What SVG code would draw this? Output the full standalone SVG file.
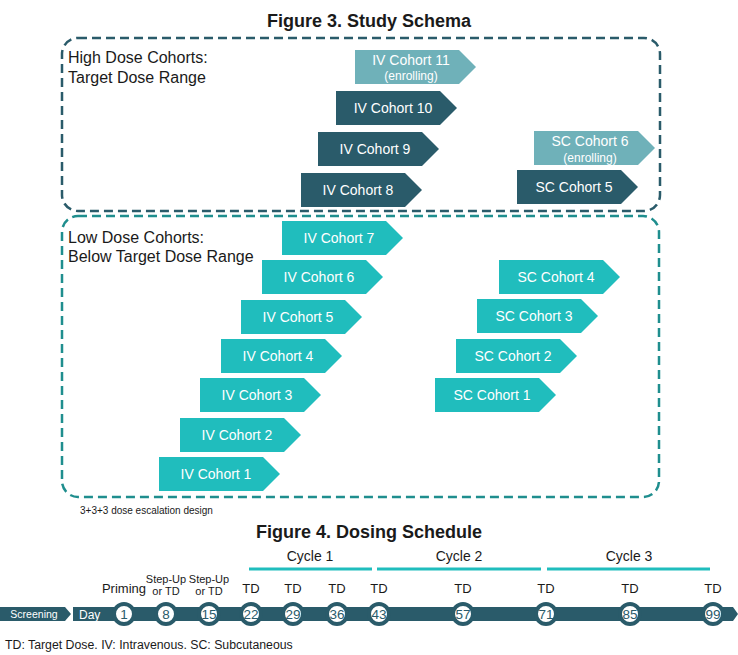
<svg xmlns="http://www.w3.org/2000/svg" width="738" height="655" viewBox="0 0 738 655">
<defs>
<style>
text{font-family:"Liberation Sans",Arial,sans-serif;}
.title{font-size:18px;font-weight:bold;fill:#1a1a1a;text-anchor:middle;}
.hdr{font-size:16px;fill:#1a1a1a;}
.lbl{font-size:14px;fill:#ffffff;text-anchor:middle;}
.sub{font-size:12px;fill:#ffffff;text-anchor:middle;}
.dark{fill:#2a5b6a;}
.light{fill:#6fb1b9;}
.teal{fill:#20bdbd;}
.cyc{font-size:14px;fill:#1a1a1a;text-anchor:middle;}
.cycline{stroke:#20bdbd;stroke-width:3;fill:none;}
.top{font-size:13px;fill:#1a1a1a;text-anchor:middle;}
.small{font-size:11px;fill:#1a1a1a;text-anchor:middle;}
.dot{fill:#ffffff;stroke:#2a5b6a;stroke-width:4;}
.num{font-size:13.5px;fill:#2a5b6a;text-anchor:middle;}
</style>
<path id="chev" d="M0,0 H104 L121,17 L104,34 H0 Z"/>
</defs>
<rect width="738" height="655" fill="#ffffff"/>

<text class="title" x="369" y="27">Figure 3. Study Schema</text>

<g id="connectors"></g>

<g id="high-box">
<rect x="62" y="38" width="598" height="173" rx="16" fill="none" stroke="#2a5b6a" stroke-width="2.5" stroke-dasharray="9,5"/>
<text class="hdr" x="68" y="63">High Dose Cohorts:</text>
<text class="hdr" x="68" y="83">Target Dose Range</text>
</g>
<g id="low-box">
<rect x="62" y="216" width="597" height="281" rx="16" fill="none" stroke="#1f8e8e" stroke-width="2.5" stroke-dasharray="9,5"/>
<text class="hdr" x="68" y="243">Low Dose Cohorts:</text>
<text class="hdr" x="68" y="262">Below Target Dose Range</text>
</g>

<g id="iv11"><use href="#chev" x="355" y="50" class="light"/><text class="lbl" x="411" y="65">IV Cohort 11</text><text class="sub" x="411" y="80">(enrolling)</text></g>
<g id="iv10"><use href="#chev" x="336" y="91" class="dark"/><text class="lbl" x="393" y="113">IV Cohort 10</text></g>
<g id="iv9"><use href="#chev" x="318" y="132" class="dark"/><text class="lbl" x="375" y="154">IV Cohort 9</text></g>
<g id="iv8"><use href="#chev" x="301" y="173" class="dark"/><text class="lbl" x="358" y="195">IV Cohort 8</text></g>
<g id="sc6"><use href="#chev" x="534" y="131" class="light"/><text class="lbl" x="590" y="146">SC Cohort 6</text><text class="sub" x="590" y="162">(enrolling)</text></g>
<g id="sc5"><use href="#chev" x="517" y="170" class="dark"/><text class="lbl" x="574" y="192">SC Cohort 5</text></g>

<g id="iv7"><use href="#chev" x="282" y="221" class="teal"/><text class="lbl" x="339" y="243">IV Cohort 7</text></g>
<g id="iv6"><use href="#chev" x="262" y="260" class="teal"/><text class="lbl" x="319" y="282">IV Cohort 6</text></g>
<g id="iv5"><use href="#chev" x="241" y="300" class="teal"/><text class="lbl" x="298" y="322">IV Cohort 5</text></g>
<g id="iv4"><use href="#chev" x="221" y="339" class="teal"/><text class="lbl" x="278" y="361">IV Cohort 4</text></g>
<g id="iv3"><use href="#chev" x="200" y="378" class="teal"/><text class="lbl" x="257" y="400">IV Cohort 3</text></g>
<g id="iv2"><use href="#chev" x="180" y="418" class="teal"/><text class="lbl" x="237" y="440">IV Cohort 2</text></g>
<g id="iv1"><use href="#chev" x="159" y="457" class="teal"/><text class="lbl" x="216" y="479">IV Cohort 1</text></g>

<g id="sc4"><use href="#chev" x="499" y="260" class="teal"/><text class="lbl" x="556" y="282">SC Cohort 4</text></g>
<g id="sc3"><use href="#chev" x="477" y="299" class="teal"/><text class="lbl" x="534" y="321">SC Cohort 3</text></g>
<g id="sc2"><use href="#chev" x="456" y="339" class="teal"/><text class="lbl" x="513" y="361">SC Cohort 2</text></g>
<g id="sc1"><use href="#chev" x="435" y="378" class="teal"/><text class="lbl" x="492" y="400">SC Cohort 1</text></g>

<text x="80" y="514" font-size="10" fill="#1a1a1a">3+3+3 dose escalation design</text>

<text class="title" x="369" y="538">Figure 4. Dosing Schedule</text>

<g id="cycles">
<line class="cycline" x1="249" y1="569" x2="372" y2="569"/>
<line class="cycline" x1="377" y1="569" x2="541" y2="569"/>
<line class="cycline" x1="547" y1="569" x2="710" y2="569"/>
<text class="cyc" x="310" y="561">Cycle 1</text>
<text class="cyc" x="459" y="561">Cycle 2</text>
<text class="cyc" x="629" y="561">Cycle 3</text>
</g>

<g id="screening">
<path d="M0,607 H65 L71,614 L65,621 H0 Z" class="dark"/>
<text x="34" y="618" font-size="10.5" fill="#ffffff" text-anchor="middle">Screening</text>
</g>
<g id="timeline">
<path d="M73,607 H733 L738,614 L733,621 H73 Z" class="dark"/>
<text x="79" y="618.5" font-size="12" fill="#ffffff">Day</text>
</g>

<g id="day1"><circle class="dot" cx="124" cy="614" r="10"/><text class="num" x="124" y="619">1</text><text class="top" x="124" y="593">Priming</text></g>
<g id="day8"><circle class="dot" cx="166" cy="614" r="10"/><text class="num" x="166" y="619">8</text><text class="small" x="166" y="583">Step-Up</text><text class="small" x="166" y="595">or TD</text></g>
<g id="day15"><circle class="dot" cx="209" cy="614" r="10"/><text class="num" x="209" y="619">15</text><text class="small" x="209" y="583">Step-Up</text><text class="small" x="209" y="595">or TD</text></g>
<g id="day22"><circle class="dot" cx="251" cy="614" r="10"/><text class="num" x="251" y="619">22</text><text class="top" x="251" y="593">TD</text></g>
<g id="day29"><circle class="dot" cx="293" cy="614" r="10"/><text class="num" x="293" y="619">29</text><text class="top" x="293" y="593">TD</text></g>
<g id="day36"><circle class="dot" cx="337" cy="614" r="10"/><text class="num" x="337" y="619">36</text><text class="top" x="337" y="593">TD</text></g>
<g id="day43"><circle class="dot" cx="379" cy="614" r="10"/><text class="num" x="379" y="619">43</text><text class="top" x="379" y="593">TD</text></g>
<g id="day57"><circle class="dot" cx="463" cy="614" r="10"/><text class="num" x="463" y="619">57</text><text class="top" x="463" y="593">TD</text></g>
<g id="day71"><circle class="dot" cx="546" cy="614" r="10"/><text class="num" x="546" y="619">71</text><text class="top" x="546" y="593">TD</text></g>
<g id="day85"><circle class="dot" cx="630" cy="614" r="10"/><text class="num" x="630" y="619">85</text><text class="top" x="630" y="593">TD</text></g>
<g id="day99"><circle class="dot" cx="713" cy="614" r="10"/><text class="num" x="713" y="619">99</text><text class="top" x="713" y="593">TD</text></g>

<text x="5" y="649" font-size="12.3" fill="#1a1a1a">TD: Target Dose. IV: Intravenous. SC: Subcutaneous</text>
</svg>
